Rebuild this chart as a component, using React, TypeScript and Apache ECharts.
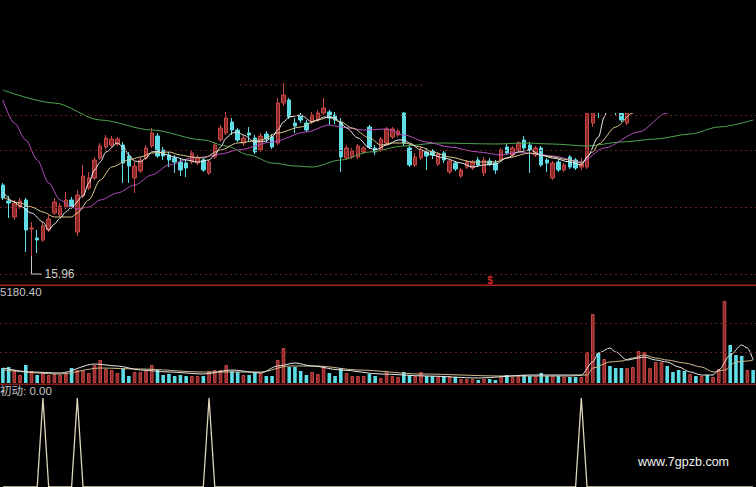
import React, { useEffect, useRef } from "react";
import * as echarts from "echarts";

// ---- Daily candles (price) ----
const OPEN = [
  16.67, 16.51, 16.35, 16.45, 16.52, 16.23, 16.14, 16.12, 16.22, 16.39,
  16.37, 16.45, 16.52, 16.20, 16.56, 16.64, 16.74, 16.94, 17.05, 17.07,
  17.08, 17.07, 16.96, 16.74, 16.81, 16.94, 17.06, 17.16, 17.02, 16.97,
  16.94, 16.90, 16.89, 16.90, 16.89, 16.92, 16.79, 16.95, 17.12, 17.19,
  17.30, 17.22, 17.09, 17.19, 17.14, 17.02, 17.18, 17.15, 17.09, 17.49,
  17.52, 17.29, 17.36, 17.29, 17.30, 17.32, 17.39, 17.40, 17.37, 17.30,
  16.94, 16.95, 16.95, 17.00, 17.25, 17.04, 17.02, 17.09, 17.15, 17.17,
  17.39, 17.04, 16.87, 16.94, 17.00, 17.01, 16.88, 16.99, 16.80, 16.89,
  16.76, 16.85, 16.84, 16.92, 16.79, 16.91, 16.89, 16.92, 17.05, 16.97,
  17.02, 17.12, 17.07, 16.97, 17.04, 16.92, 16.74, 16.90, 16.82, 16.95,
  16.92, 16.85, 16.85, 17.29, 17.70, 17.55, 17.95, 17.90, 17.70, 17.29,
  17.60, 17.85, 18.10, 18.25, 18.30, 18.40, 18.55, 18.40, 18.30, 18.20,
  18.05, 18.15, 18.00, 18.10, 17.95, 18.00, 18.20, 18.60, 18.40, 18.25,
  18.10, 18.20,
];
const CLOSE = [
  16.54, 16.49, 16.49, 16.51, 16.22, 16.24, 16.12, 16.26, 16.33, 16.50,
  16.46, 16.52, 16.45, 16.57, 16.76, 16.74, 16.92, 17.06, 17.14, 17.13,
  17.13, 16.89, 16.86, 16.86, 16.92, 17.04, 17.19, 16.96, 16.96, 16.92,
  16.90, 16.82, 16.84, 16.99, 16.94, 16.82, 16.90, 17.07, 17.24, 17.34,
  17.22, 17.12, 17.14, 17.17, 17.00, 17.16, 17.13, 17.05, 17.49, 17.57,
  17.35, 17.26, 17.32, 17.22, 17.37, 17.39, 17.44, 17.34, 17.32, 16.95,
  17.04, 17.01, 17.06, 17.04, 17.05, 17.00, 17.13, 17.23, 17.23, 17.21,
  17.09, 16.87, 16.95, 17.02, 16.96, 16.97, 16.98, 16.92, 16.91, 16.83,
  16.82, 16.90, 16.90, 16.87, 16.92, 16.88, 16.82, 17.02, 16.99, 17.04,
  17.09, 17.04, 17.02, 17.04, 16.87, 16.89, 16.89, 16.82, 16.87, 16.85,
  16.84, 16.88, 17.47, 17.62, 17.50, 17.80, 17.80, 17.75, 17.32, 17.60,
  17.85, 18.10, 18.30, 18.35, 18.45, 18.55, 18.40, 18.30, 18.20, 18.10,
  18.15, 18.05, 18.10, 18.00, 18.05, 18.20, 18.60, 18.40, 18.25, 18.10,
  18.20, 18.10,
];
const LOW = [
  16.52, 16.34, 16.32, 16.43, 16.00, 15.96, 15.99, 16.10, 16.20, 16.37,
  16.35, 16.43, 16.43, 16.16, 16.54, 16.62, 16.72, 16.92, 17.03, 17.05,
  17.06, 16.69, 16.69, 16.59, 16.79, 16.92, 17.04, 16.94, 16.92, 16.85,
  16.79, 16.76, 16.75, 16.88, 16.87, 16.80, 16.77, 16.93, 17.10, 17.17,
  17.17, 17.10, 17.06, 17.10, 16.98, 17.00, 17.10, 17.03, 17.07, 17.46,
  17.33, 17.19, 17.29, 17.20, 17.28, 17.30, 17.37, 17.27, 17.28, 16.80,
  16.92, 16.93, 16.93, 16.98, 17.03, 16.97, 17.00, 17.07, 17.13, 17.15,
  17.06, 16.85, 16.85, 16.92, 16.82, 16.93, 16.86, 16.89, 16.78, 16.81,
  16.74, 16.83, 16.82, 16.85, 16.76, 16.86, 16.78, 16.90, 16.97, 16.95,
  17.00, 17.02, 16.79, 16.95, 16.85, 16.80, 16.72, 16.80, 16.80, 16.83,
  16.82, 16.82, 16.83, 17.25, 17.34, 17.45, 17.60, 17.36, 17.30, 17.27,
  17.55, 17.80, 18.00, 18.20, 18.25, 18.35, 18.35, 18.25, 18.15, 18.05,
  18.00, 18.00, 17.95, 17.95, 17.90, 17.95, 18.15, 18.30, 18.20, 18.05,
  18.05, 18.05,
];
const HIGH = [
  16.69, 16.56, 16.52, 16.54, 16.54, 16.30, 16.22, 16.30, 16.37, 16.54,
  16.49, 16.60, 16.55, 16.62, 16.87, 16.80, 16.95, 17.09, 17.17, 17.16,
  17.15, 17.10, 17.00, 16.90, 16.95, 17.07, 17.24, 17.19, 17.05, 17.00,
  16.97, 16.94, 16.92, 17.02, 16.97, 16.94, 16.92, 17.10, 17.27, 17.40,
  17.34, 17.24, 17.17, 17.25, 17.17, 17.19, 17.21, 17.18, 17.54, 17.69,
  17.54, 17.34, 17.39, 17.32, 17.40, 17.42, 17.54, 17.42, 17.40, 17.34,
  17.07, 17.04, 17.08, 17.06, 17.27, 17.07, 17.15, 17.25, 17.25, 17.23,
  17.40, 17.07, 16.99, 17.06, 17.04, 17.03, 17.00, 17.01, 16.93, 16.91,
  16.84, 16.92, 16.92, 16.95, 16.95, 16.94, 16.92, 17.04, 17.08, 17.06,
  17.11, 17.16, 17.10, 17.06, 17.06, 16.94, 16.91, 16.92, 16.89, 16.97,
  16.94, 16.94, 17.52, 17.70, 17.80, 17.90, 18.05, 18.00, 17.75, 17.70,
  17.90, 18.15, 18.40, 18.45, 18.50, 18.60, 18.60, 18.45, 18.35, 18.25,
  18.20, 18.20, 18.15, 18.15, 18.10, 18.25, 18.70, 18.70, 18.50, 18.30,
  18.25, 18.25,
];

// ---- Volume ----
const VOLUME = [
  1500, 1600, 1300, 800, 1800, 1200, 800, 1000, 800, 900,
  800, 900, 1500, 1300, 1200, 1000, 1800, 2300, 1400, 1300,
  1000, 1400, 700, 1100, 1100, 1300, 1800, 1300, 800, 900,
  700, 800, 700, 700, 700, 700, 1200, 1300, 1300, 1800,
  1200, 1100, 800, 800, 1000, 1000, 700, 700, 2300, 3500,
  1600, 1600, 1200, 800, 1100, 900, 1600, 1000, 700, 1500,
  1000, 700, 700, 700, 900, 700, 500, 1200, 700, 600,
  1100, 800, 700, 1100, 700, 700, 700, 700, 700, 600,
  400, 400, 400, 300, 400, 400, 300, 700, 800, 600,
  800, 800, 700, 700, 1000, 700, 700, 700, 600, 600,
  600, 600, 3100, 6900, 3000, 2400, 1700, 1500, 1500, 1500,
  1600, 3200, 3100, 1500, 2100, 2100, 1700, 1100, 1300, 1200,
  900, 700, 700, 800, 600, 1400, 8200, 3800, 2800, 2700,
  1300, 1300,
];

// ---- Price moving averages, read at key points [day index, price] ----
const MA5 = [
  [0, 16.6], [2, 16.5], [3, 16.46], [5, 16.39], [7, 16.3], [8, 16.22], [9, 16.28], [10, 16.34],
  [11, 16.4], [12, 16.45], [14, 16.56], [15, 16.69], [16, 16.82], [17, 16.9], [18, 17.0], [20, 17.09],
  [21, 17.05], [22, 16.97], [23, 16.91], [24, 16.9], [25, 16.94], [26, 17.0], [27, 17.01], [28, 16.98],
  [30, 16.95], [32, 16.92], [34, 16.9], [36, 16.92], [37, 16.97], [38, 17.05], [39, 17.14], [40, 17.19],
  [41, 17.2], [42, 17.17], [44, 17.1], [46, 17.11], [47, 17.15], [48, 17.22], [49, 17.3], [50, 17.35],
  [52, 17.37], [54, 17.3], [55, 17.32], [56, 17.35], [58, 17.34], [59, 17.29], [60, 17.24], [62, 17.14],
  [64, 17.04], [65, 17.02], [67, 17.07], [69, 17.12], [70, 17.12], [71, 17.09], [73, 17.02], [75, 16.97],
  [77, 16.94], [80, 16.89], [82, 16.85], [84, 16.87], [86, 16.88], [88, 16.94], [90, 17.0], [92, 17.02],
  [94, 16.97], [96, 16.94], [99, 16.9], [101, 16.87], [102, 16.95], [104, 17.15], [105, 17.35], [106, 17.54],
  [108, 17.72], [112, 17.92], [116, 18.12], [120, 18.22], [126, 18.32], [131, 18.37],
];
const MA10 = [
  [0, 16.55], [3, 16.49], [5, 16.45], [7, 16.4], [9, 16.35], [12, 16.35], [13, 16.39], [15, 16.52],
  [17, 16.72], [19, 16.85], [22, 16.92], [24, 16.95], [26, 16.99], [29, 17.0], [31, 16.97], [33, 16.95],
  [35, 16.94], [38, 17.02], [41, 17.09], [45, 17.12], [48, 17.19], [52, 17.25], [55, 17.32], [57, 17.35],
  [59, 17.3], [61, 17.24], [64, 17.14], [66, 17.07], [68, 17.09], [70, 17.09], [73, 17.05], [75, 17.0],
  [78, 16.95], [82, 16.9], [86, 16.9], [88, 16.94], [92, 16.99], [95, 16.96], [99, 16.92], [101, 16.89],
  [103, 17.0], [104, 17.08], [107, 17.25], [110, 17.39], [113, 17.57], [118, 17.82], [124, 18.02], [131, 18.22],
];
const MA20 = [
  [0, 17.52], [2, 17.29], [4, 17.12], [6, 16.92], [8, 16.69], [10, 16.52], [12, 16.45], [13, 16.43],
  [15, 16.45], [17, 16.52], [20, 16.59], [23, 16.67], [26, 16.77], [29, 16.87], [33, 16.94], [35, 16.95],
  [38, 16.98], [41, 17.02], [47, 17.1], [53, 17.2], [57, 17.27], [59, 17.25], [63, 17.22], [67, 17.23],
  [70, 17.17], [74, 17.1], [78, 17.05], [83, 17.0], [87, 16.97], [90, 17.0], [93, 16.98], [96, 16.96],
  [101, 16.9], [105, 17.04], [111, 17.2], [116, 17.39], [122, 17.57], [131, 17.82],
];
const MA60 = [
  [0, 17.62], [9, 17.49], [17, 17.32], [26, 17.22], [35, 17.12], [39, 17.06], [43, 16.97], [47, 16.89],
  [51, 16.86], [54, 16.85], [59, 16.92], [64, 17.0], [70, 17.06], [76, 17.09], [86, 17.08], [91, 17.09],
  [96, 17.08], [102, 17.06], [108, 17.1], [114, 17.13], [120, 17.18], [125, 17.25], [131, 17.32],
];

// ---- Volume moving averages, key points [day index, volume] ----
const VMA5 = [
  [0, 1500], [5, 1100], [10, 1000], [16, 1900], [20, 1700], [24, 1300], [29, 1100], [35, 900],
  [40, 1300], [45, 1000], [48, 1700], [51, 2000], [54, 1700], [59, 1300], [66, 900], [74, 700],
  [83, 500], [92, 800], [99, 800], [101, 800], [103, 2100], [104, 3000], [106, 3500], [107, 3100],
  [109, 2300], [111, 2500], [112, 2600], [114, 2300], [116, 2100], [118, 1600], [120, 1100], [122, 800],
  [124, 800], [125, 1300], [127, 2800], [129, 3800], [130, 3500], [131, 2300],
];
const VMA10 = [
  [0, 1300], [10, 900], [17, 1500], [24, 1400], [35, 1100], [45, 1100], [50, 1700], [55, 1700],
  [62, 1300], [73, 900], [87, 700], [99, 700], [102, 800], [103, 1500], [106, 2100], [108, 2200],
  [110, 2500], [112, 2800], [114, 2500], [116, 2300], [119, 2000], [122, 1600], [124, 1100], [126, 1300],
  [128, 2100], [130, 2200], [131, 2300],
];

// ---- Signal indicator (初动) : days where the signal fires ----
const SIGNAL_DAYS = [7, 13, 36, 101];

// ---- Texts ----
const LOW_INDEX = 5;
const LOW_VALUE = 15.96;
const VOL_LABEL = "5180.40";
const SIGNAL_LABEL = "初动: 0.00";
const WATERMARK = "www.7gpzb.com";
const PRICE_GRID_LEVELS = [17.37, 17.02, 16.45, 15.78];
const VOL_GRID_LEVELS = [6000, 3100];

const CATEGORIES = OPEN.map((_, i) => `D${i + 1}`);

const RED = "#c94848";
const RED_FILL = "#8e2a2a";
const CYAN = "#5fdde6";
const DOT = "#6a1c1c";

export default function App() {
  const ref = useRef<HTMLDivElement>(null);
  useEffect(() => {
    if (!ref.current) return;
    const chart = echarts.init(ref.current, null, { renderer: "svg" });
    const left = -2.3;
    const width = 761.64;
    const candles = OPEN.map((o, i) => [o, CLOSE[i], LOW[i], HIGH[i]]);
    const volData = VOLUME.map((v, i) => ({
      value: v,
      itemStyle:
        CLOSE[i] >= OPEN[i]
          ? { color: RED_FILL, borderColor: RED, borderWidth: 1 }
          : { color: CYAN },
    }));
    const signal = OPEN.map((_, i) => (SIGNAL_DAYS.includes(i) ? 1 : 0));
    const maLine = (data: number[][], color: string, xi: number) => ({
      type: "line",
      xAxisIndex: xi,
      yAxisIndex: xi,
      data,
      showSymbol: false,
      symbol: "none",
      smooth: 0.3,
      smoothMonotone: "x",
      lineStyle: { color, width: 1 },
      z: 3,
      silent: true,
    });
    const dotted = { color: DOT, type: [2, 3] as any, width: 1 };
    chart.setOption({
      animation: false,
      backgroundColor: "#000000",
      grid: [
        { left, width, top: 0, height: 285 },
        { left, width, top: 286, height: 97 },
        { left, width, top: 398, height: 94 },
      ],
      xAxis: [0, 1, 2].map((g) => ({
        type: "category",
        gridIndex: g,
        data: CATEGORIES,
        show: false,
        boundaryGap: true,
      })),
      yAxis: [
        { gridIndex: 0, min: 15.67, max: 18.52, show: false },
        { gridIndex: 1, min: 0, max: 9700, show: false },
        { gridIndex: 2, min: 0, max: 1, show: false },
      ],
      series: [
        {
          type: "candlestick",
          xAxisIndex: 0,
          yAxisIndex: 0,
          data: candles,
          barWidth: 4,
          itemStyle: {
            color: RED_FILL,
            color0: CYAN,
            borderColor: RED,
            borderColor0: CYAN,
            borderWidth: 1,
          },
          markLine: {
            silent: true,
            symbol: "none",
            label: { show: false },
            lineStyle: dotted,
            data: PRICE_GRID_LEVELS.map((v) => ({ yAxis: v })),
          },
        },
        maLine(MA60, "#4fa54f", 0),
        maLine(MA20, "#b24fc0", 0),
        maLine(MA10, "#d8c88a", 0),
        maLine(MA5, "#ececec", 0),
        {
          type: "bar",
          xAxisIndex: 1,
          yAxisIndex: 1,
          data: volData,
          barWidth: 3.6,
          markLine: {
            silent: true,
            symbol: "none",
            label: { show: false },
            lineStyle: dotted,
            data: VOL_GRID_LEVELS.map((v) => ({ yAxis: v })),
          },
        },
        maLine(VMA10, "#cdbb8c", 1),
        maLine(VMA5, "#e6e6e6", 1),
        {
          type: "line",
          xAxisIndex: 2,
          yAxisIndex: 2,
          data: signal,
          symbol: "none",
          lineStyle: { color: "#ddd6bc", width: 1.3 },
          silent: true,
        },
      ],
    });

    const lowPt = chart.convertToPixel({ xAxisIndex: 0, yAxisIndex: 0 }, [LOW_INDEX, LOW_VALUE]) as number[];
    const topY = chart.convertToPixel({ xAxisIndex: 0, yAxisIndex: 0 }, [0, 17.67]) as number[];
    const labelY = lowPt[1] + 18;
    chart.setOption({
      graphic: [
        {
          type: "line",
          shape: { x1: 240, y1: topY[1], x2: 425, y2: topY[1] },
          style: { stroke: DOT, lineDash: [2, 3], lineWidth: 1 },
          z: 1,
          silent: true,
        },
        {
          type: "rect",
          shape: { x: 425, y: 0, width: 340, height: 113 },
          style: { fill: "#000000" },
          z: 100,
          silent: true,
        },
        {
          type: "polyline",
          shape: { points: [[lowPt[0], lowPt[1]], [lowPt[0], labelY], [lowPt[0] + 10, labelY]] },
          style: { stroke: "#c8c8c8", lineWidth: 1, fill: null },
          z: 101,
          silent: true,
        },
        {
          type: "text",
          x: lowPt[0] + 13,
          y: labelY,
          style: {
            text: LOW_VALUE.toFixed(2),
            fill: "#cfcfcf",
            fontSize: 12,
            fontFamily: "Liberation Sans",
            verticalAlign: "middle",
            align: "left",
          },
          z: 101,
        },
        {
          type: "text",
          x: 490,
          y: 280,
          style: {
            text: "$",
            fill: "#d42a2a",
            fontSize: 10,
            fontWeight: "bold",
            fontFamily: "Liberation Sans",
            verticalAlign: "middle",
            align: "center",
          },
          z: 101,
        },
        {
          type: "rect",
          shape: { x: 0, y: 284.5, width: 756, height: 1.5 },
          style: { fill: "#a82222" },
          z: 101,
          silent: true,
        },
        {
          type: "rect",
          shape: { x: 0, y: 383.5, width: 756, height: 1.5 },
          style: { fill: "#8a1c1c" },
          z: 101,
          silent: true,
        },
        {
          type: "text",
          x: 0,
          y: 292,
          style: {
            text: VOL_LABEL,
            fill: "#c4c4c4",
            fontSize: 11.5,
            fontFamily: "Liberation Sans",
            verticalAlign: "middle",
            align: "left",
          },
          z: 101,
        },
        {
          type: "text",
          x: 0,
          y: 391,
          style: {
            text: SIGNAL_LABEL,
            fill: "#c8c8c8",
            fontSize: 11.5,
            fontFamily: "Liberation Sans, Noto Sans CJK SC",
            verticalAlign: "middle",
            align: "left",
          },
          z: 101,
        },
        {
          type: "text",
          x: 638,
          y: 462,
          style: {
            text: WATERMARK,
            fill: "#f2f2f2",
            fontSize: 12.5,
            fontFamily: "Liberation Sans",
            verticalAlign: "middle",
            align: "left",
          },
          z: 101,
        },
      ],
    });
    return () => chart.dispose();
  }, []);
  return <div ref={ref} style={{ width: 756, height: 487, position: "absolute", left: 0, top: 0 }} />;
}
